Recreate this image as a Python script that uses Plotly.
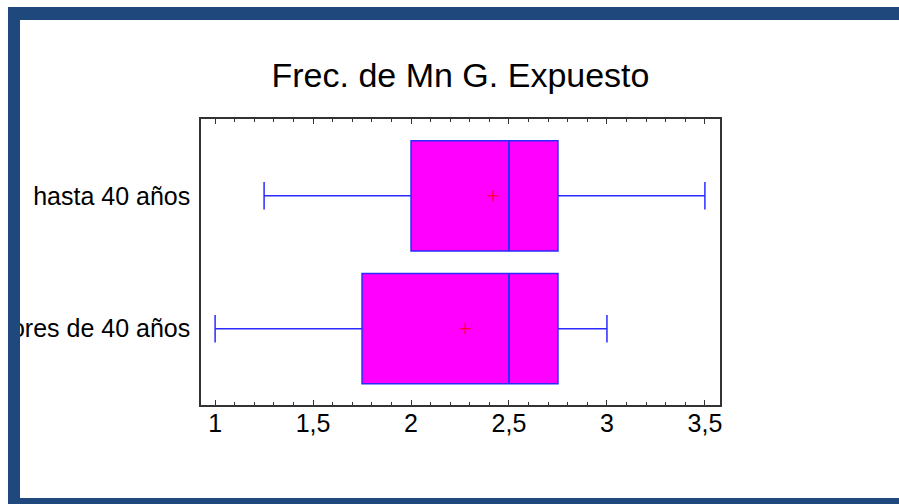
import plotly.graph_objects as go

# ---- data ----
categories = ["mayores de 40 años", "hasta 40 años"]
lower_whisker = [1.0, 1.25]
q1_vals = [1.75, 2.0]
median_vals = [2.5, 2.5]
q3_vals = [2.75, 2.75]
upper_whisker = [3.0, 3.5]
mean_vals = [2.276, 2.418]
x_tick_vals = [1, 1.5, 2, 2.5, 3, 3.5]

title_text = "Frec. de Mn G. Expuesto"

BOX_W = 0.83
FONT = "Liberation Sans, Arial, sans-serif"
LINE_BLUE = "#2B2BFF"

fig = go.Figure()

fig.add_trace(go.Box(
    y=categories,
    q1=q1_vals, median=median_vals, q3=q3_vals,
    lowerfence=lower_whisker, upperfence=upper_whisker,
    orientation="h",
    width=BOX_W,
    whiskerwidth=0.25,
    fillcolor="#FF00FF",
    line=dict(color=LINE_BLUE, width=1.5),
    boxpoints=False,
    showlegend=False,
    hoverinfo="skip",
))

# thicker median lines
for i, c in enumerate(categories):
    fig.add_trace(go.Scatter(
        x=[median_vals[i], median_vals[i]],
        y=[i - BOX_W / 2, i + BOX_W / 2],
        mode="lines",
        line=dict(color=LINE_BLUE, width=2),
        showlegend=False, hoverinfo="skip",
        yaxis="y2",
    ))

# mean markers
fig.add_trace(go.Scatter(
    x=mean_vals, y=categories,
    mode="markers",
    marker=dict(symbol="cross-thin-open", size=8, color="#FF0000",
                line=dict(color="#FF0000", width=1)),
    showlegend=False, hoverinfo="skip",
))

YR = [-0.574, 1.578]

fig.update_layout(
    width=899, height=504,
    paper_bgcolor="white", plot_bgcolor="white",
    margin=dict(l=201, r=179, t=119, b=99, autoexpand=False),
    separators=",.",
    font=dict(family=FONT, color="black", size=25),
    title=dict(text=title_text, x=0.5, xref="paper", y=1 - 75 / 504,
               yref="container", yanchor="middle", xanchor="center",
               font=dict(size=34, family=FONT, color="black"), automargin=False),
    xaxis=dict(
        range=[0.928, 3.577],
        tickvals=x_tick_vals,
        automargin=False,
        ticks="inside", ticklen=5, tickwidth=1, tickcolor="#333333",
        minor=dict(dtick=0.1, tick0=1, ticks="inside", ticklen=3, tickcolor="#333333", tickwidth=1),
        showline=True, linecolor="#333333", linewidth=1.5, mirror="ticks",
        showgrid=False, zeroline=False,
        tickfont=dict(size=25, family=FONT, color="black"),
        ticklabelstandoff=-5,
    ),
    yaxis=dict(
        type="category",
        categoryorder="array", categoryarray=categories,
        range=YR,
        automargin=False,
        ticks="", showline=True, linecolor="#333333", linewidth=1.5, mirror=True,
        showgrid=False, zeroline=False,
        tickfont=dict(size=25, family=FONT, color="black"),
        ticklabelstandoff=4,
    ),
    yaxis2=dict(
        range=YR, overlaying="y", visible=False, automargin=False,
    ),
)

# frame border (dark blue)
BC = "#1F497D"
PW, PH = 519.0, 286.0
def px(x):
    return (x - 201) / PW
def py(y):
    return (405 - y) / PH

fig.add_shape(type="rect", xref="paper", yref="paper", layer="above",
              x0=px(8), x1=px(905), y0=py(7), y1=py(20),
              fillcolor=BC, line=dict(width=0))
fig.add_shape(type="rect", xref="paper", yref="paper", layer="above",
              x0=px(8), x1=px(20), y0=py(7), y1=py(510),
              fillcolor=BC, line=dict(width=0))
fig.add_shape(type="rect", xref="paper", yref="paper", layer="above",
              x0=px(8), x1=px(905), y0=py(498), y1=py(510),
              fillcolor=BC, line=dict(width=0))
# mask left of border
fig.add_shape(type="rect", xref="paper", yref="paper", layer="above",
              x0=px(-50), x1=px(8), y0=py(-10), y1=py(510),
              fillcolor="white", line=dict(width=0))

fig.write_html("out.html")
